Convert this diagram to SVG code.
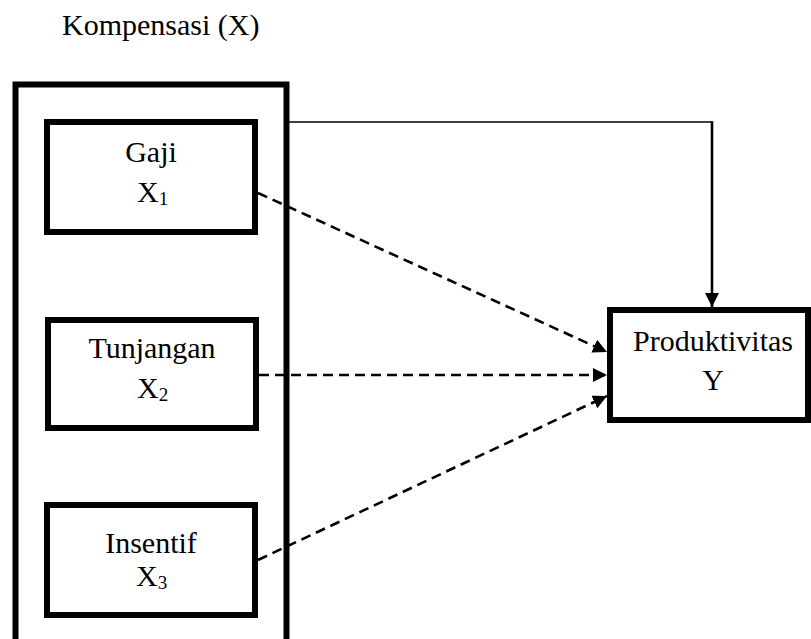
<svg xmlns="http://www.w3.org/2000/svg" width="811" height="639" viewBox="0 0 811 639">
<style>
.box{fill:none;stroke:#000;stroke-width:6}
text{font-family:"Liberation Serif","Times New Roman",serif;font-size:30px;fill:#000}
.c{text-anchor:middle}
.sub{font-size:19px}
.dash{fill:none;stroke:#000;stroke-width:2.6;stroke-dasharray:10,6}
</style>
<defs>
<marker id="ah" markerUnits="userSpaceOnUse" markerWidth="14" markerHeight="14" viewBox="0 0 14 14" refX="14" refY="7" orient="auto">
<path d="M0,0 L14,7 L0,14 Z" fill="#000"/>
</marker>
</defs>
<text id="title" x="62" y="35">Kompensasi (X)</text>
<g id="kompensasi"><rect class="box" x="15.5" y="84.5" width="271" height="560"/></g>
<g id="gaji"><rect class="box" x="47" y="122" width="208" height="110"/>
<text class="c" x="151" y="162">Gaji</text>
<text x="137" y="202">X<tspan class="sub" dy="3">1</tspan></text></g>
<g id="tunjangan"><rect class="box" x="48" y="320" width="208" height="108"/>
<text class="c" x="152" y="358">Tunjangan</text>
<text x="137" y="398">X<tspan class="sub" dy="3">2</tspan></text></g>
<g id="insentif"><rect class="box" x="47" y="505" width="208" height="110"/>
<text class="c" x="151" y="553">Insentif</text>
<text x="136" y="586">X<tspan class="sub" dy="3">3</tspan></text></g>
<g id="produktivitas"><rect class="box" x="610" y="310" width="198" height="110"/>
<text class="c" x="713" y="351">Produktivitas</text>
<text class="c" x="713" y="390">Y</text></g>
<g id="connectors">
<polyline points="289,122 712,122" fill="none" stroke="#000" stroke-width="1.6"/>
<line x1="712" y1="121.2" x2="712" y2="307" stroke="#000" stroke-width="2.6" marker-end="url(#ah)"/>
<line class="dash" x1="258" y1="193" x2="607" y2="352" marker-end="url(#ah)"/>
<line class="dash" x1="259" y1="375" x2="607" y2="375" marker-end="url(#ah)"/>
<line class="dash" x1="258" y1="560" x2="607" y2="396" marker-end="url(#ah)"/>
</g>
</svg>
